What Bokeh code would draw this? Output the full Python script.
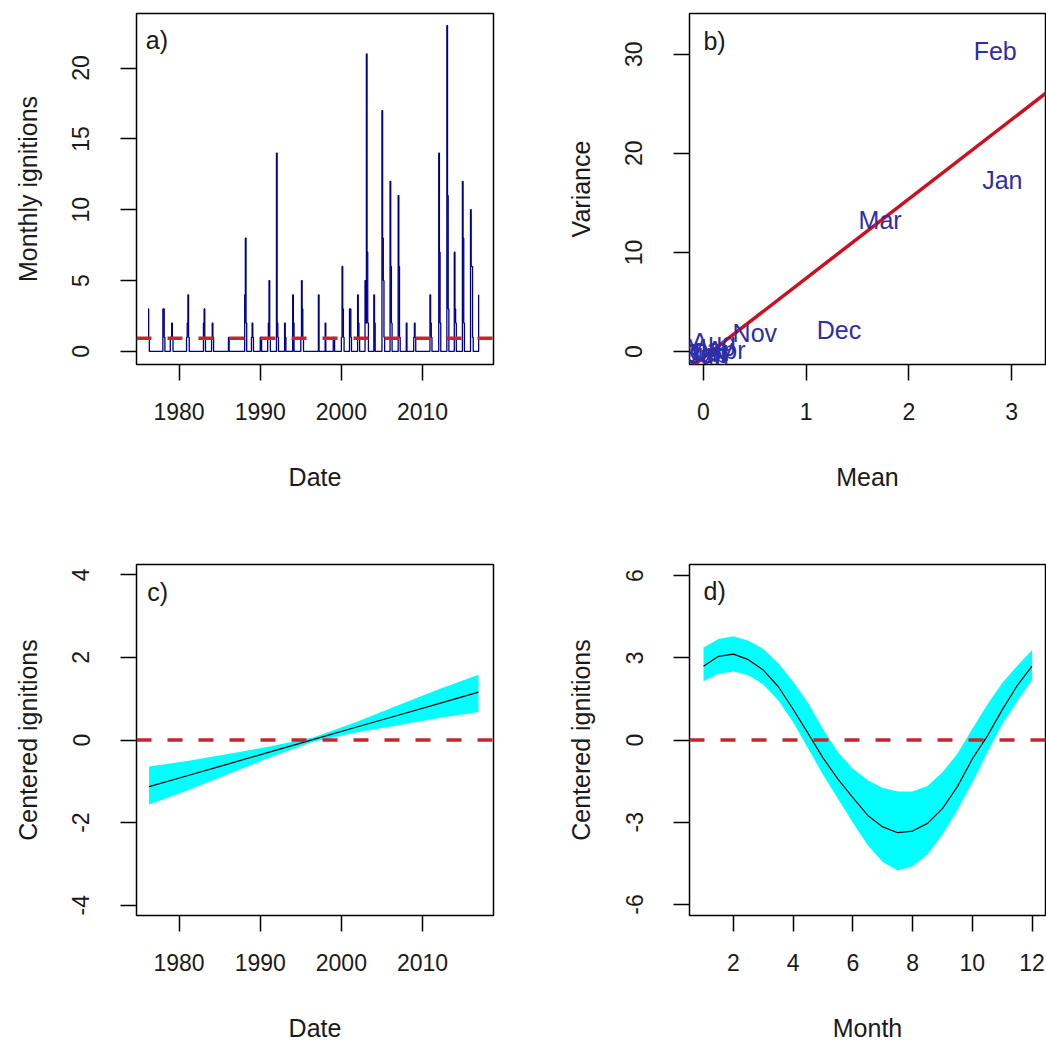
from bokeh.plotting import figure
from bokeh.layouts import gridplot
from bokeh.models import FixedTicker, Range1d, Span
from bokeh.core.properties import value
from bokeh.embed import file_html
from bokeh.resources import INLINE

FONT = "Liberation Sans"

# ---------------- data ----------------
# a) monthly ignitions (months not listed are 0)
series_start = (1976, 3)
series_end = (2016, 12)
event_year = [1976, 1976, 1978, 1978, 1978, 1978, 1979, 1979, 1979, 1980, 1981, 1981, 1981,
              1983, 1983, 1983, 1984, 1984, 1984, 1986, 1988, 1988, 1988, 1988, 1989, 1989,
              1990, 1990, 1990, 1991, 1991, 1991, 1992, 1992, 1992, 1993, 1993, 1994, 1994,
              1995, 1995, 1995, 1995, 1997, 1998, 1999, 1999, 2000, 2000, 2000, 2000,
              2001, 2001, 2001, 2002, 2002, 2002, 2002, 2003, 2003, 2003, 2003, 2004, 2004,
              2005, 2005, 2005, 2005, 2006, 2006, 2006, 2007, 2007, 2007, 2008, 2008,
              2009, 2009, 2010, 2011, 2011, 2012, 2012, 2012, 2013, 2013, 2013, 2013,
              2014, 2014, 2014, 2015, 2015, 2015, 2016, 2016, 2016, 2016]
event_month = [3, 4, 1, 2, 3, 12, 1, 2, 3, 12, 1, 2, 3,
               1, 2, 3, 1, 2, 3, 2, 2, 3, 4, 12, 1, 2,
               1, 2, 12, 1, 2, 3, 1, 2, 3, 1, 2, 1, 2,
               1, 2, 3, 4, 3, 1, 1, 2, 1, 2, 3, 4,
               1, 2, 3, 1, 2, 3, 12, 1, 2, 3, 4, 1, 2,
               1, 2, 3, 4, 1, 2, 3, 1, 2, 3, 1, 12,
               1, 2, 12, 1, 2, 1, 2, 3, 1, 2, 3, 12,
               1, 2, 12, 1, 2, 12, 1, 2, 3, 12]
event_count = [3, 1, 3, 3, 1, 1, 1, 2, 1, 1, 2, 4, 1,
               2, 3, 1, 1, 2, 1, 1, 4, 8, 2, 1, 2, 1,
               1, 1, 1, 2, 5, 1, 14, 2, 1, 2, 1, 4, 2,
               1, 5, 3, 1, 4, 2, 1, 1, 1, 6, 3, 1,
               3, 3, 1, 4, 2, 1, 5, 2, 21, 7, 2, 4, 2,
               17, 8, 5, 1, 12, 6, 2, 11, 6, 1, 2, 1,
               2, 1, 4, 2, 1, 14, 7, 2, 23, 11, 3, 7,
               3, 2, 12, 8, 2, 10, 6, 6, 1, 4]
mean_ignitions = 0.93

# b) monthly mean vs variance
month_names = ["Jan", "Feb", "Mar", "Apr", "May", "Jun", "Jul", "Aug", "Sep", "Oct", "Nov", "Dec"]
month_mean = [2.91, 2.84, 1.72, 0.22, 0.06, 0.02, 0.0, 0.10, 0.03, 0.05, 0.50, 1.32]
month_var = [17.3, 30.3, 13.3, 0.2, 0.4, -0.1, -0.3, 1.0, -0.2, 0.0, 1.9, 2.2]
fit_x = [-0.2, 3.5]
fit_y = [-2.2, 27.4]

# c) trend (centered)
trend_x = [1976.3, 1981, 1986, 1991, 1996.6, 2002, 2007, 2012, 2016.9]
trend_fit = [-1.13, -0.865, -0.584, -0.30, 0.015, 0.32, 0.60, 0.88, 1.16]
trend_lo = [-1.56, -1.22, -0.83, -0.435, -0.035, 0.19, 0.36, 0.53, 0.68]
trend_hi = [-0.64, -0.51, -0.34, -0.165, 0.065, 0.45, 0.84, 1.23, 1.58]

# d) seasonal (centered)
season_x = [1.0, 1.5, 2.0, 2.5, 3.0, 3.5, 4.0, 4.5, 5.0, 5.5, 6.0, 6.5, 7.0, 7.5,
            8.0, 8.5, 9.0, 9.5, 10.0, 10.5, 11.0, 11.5, 12.0]
season_fit = [2.69, 3.05, 3.13, 2.93, 2.55, 1.95, 1.12, 0.24, -0.65, -1.43, -2.1, -2.75,
              -3.17, -3.38, -3.32, -3.04, -2.5, -1.7, -0.69, 0.14, 1.1, 1.98, 2.69]
season_hi = [3.37, 3.68, 3.78, 3.62, 3.32, 2.8, 2.12, 1.35, 0.39, -0.45, -1.05, -1.47,
             -1.75, -1.88, -1.88, -1.68, -1.18, -0.5, 0.41, 1.29, 2.08, 2.7, 3.28]
season_lo = [2.14, 2.42, 2.5, 2.36, 2.02, 1.45, 0.65, -0.3, -1.27, -2.14, -3.02, -3.84,
             -4.45, -4.76, -4.6, -4.18, -3.45, -2.55, -1.55, -0.46, 0.57, 1.4, 2.2]

# ---------------- build series a ----------------
counts = {(y, m): c for y, m, c in zip(event_year, event_month, event_count)}
sx, sy = [], []
yy, mm = series_start
while (yy, mm) <= series_end:
    sx.append(yy + (mm - 1) / 12.0)
    sy.append(counts.get((yy, mm), 0))
    mm += 1
    if mm > 12:
        mm = 1
        yy += 1

RED = "#C4262E"
TXT = "#1a1a1a"


def make_fig(w, h, bl, br, bt, bb, xr, yr):
    p = figure(width=w, height=h, min_border_left=bl, min_border_right=br,
               min_border_top=bt, min_border_bottom=bb,
               x_range=Range1d(*xr), y_range=Range1d(*yr),
               output_backend="svg", toolbar_location=None, tools="")
    p.outline_line_color = "black"
    p.outline_line_width = 1.5
    p.outline_line_alpha = 1
    p.xgrid.visible = False
    p.ygrid.visible = False
    p.background_fill_color = "white"
    p.border_fill_color = "white"
    return p


def style(p, xticks, yticks, xlabel, ylabel):
    for ax in (p.xaxis[0], p.yaxis[0]):
        ax.axis_line_color = None
        ax.major_tick_out = 16
        ax.major_tick_in = 0
        ax.minor_tick_line_color = None
        ax.major_tick_line_color = "black"
        ax.major_tick_line_width = 1.5
        ax.major_label_text_font = FONT
        ax.major_label_text_font_size = "23px"
        ax.major_label_text_color = TXT
        ax.axis_label_text_font = FONT
        ax.axis_label_text_font_size = "25px"
        ax.axis_label_text_font_style = "normal"
        ax.axis_label_text_color = TXT
    p.xaxis.ticker = FixedTicker(ticks=xticks)
    p.yaxis.ticker = FixedTicker(ticks=yticks)
    p.xaxis.major_label_overrides = {t: str(t) for t in xticks}
    p.yaxis.major_label_overrides = {t: str(t) for t in yticks}
    p.xaxis.axis_label = xlabel
    p.yaxis.axis_label = ylabel
    p.xaxis.major_label_standoff = 22
    p.xaxis.axis_label_standoff = 40
    p.yaxis.major_label_orientation = "vertical"
    p.yaxis.major_label_standoff = 31
    p.yaxis.axis_label_standoff = 28


def panel_label(p, x, y, t):
    p.text(x=[x], y=[y], text=[t], text_font=value(FONT), text_font_size="25px",
           text_color=TXT, text_align="left", text_baseline="middle")


XR = (1974.75, 2018.75)
W1, W2 = 560, 486
H1, H2 = 493, 551

# a)
pa = make_fig(W1, H1, 136, 67, 13, 126, XR, (-0.92, 23.85))
pa.step(x=sx, y=sy, mode="after", line_color="#00008B", line_width=1.3)
pa.add_layout(Span(location=mean_ignitions, dimension="width", line_color=RED,
                   line_width=3.5, line_dash="15 16"))
style(pa, [1980, 1990, 2000, 2010], [0, 5, 10, 15, 20], "Date", "Monthly ignitions")
panel_label(pa, 1975.9, 22.0, "a)")

# b)
pb = make_fig(W2, H1, 129, 1, 13, 126, (-0.136, 3.33), (-1.3, 34.1))
pb.line(x=fit_x, y=fit_y, line_color="#CC1020", line_width=3.5)
pb.text(x=month_mean, y=month_var, text=month_names, text_font=value(FONT),
        text_font_size="25px", text_color="#2E2EA6", text_align="center",
        text_baseline="middle")
style(pb, [0, 1, 2, 3], [0, 10, 20, 30], "Mean", "Variance")
panel_label(pb, 0.0, 31.3, "b)")

# c)
pc = make_fig(W1, H2, 136, 67, 71, 126, XR, (-4.25, 4.25))
pc.varea(x=trend_x, y1=trend_lo, y2=trend_hi, fill_color="#00FFFF")
pc.line(x=trend_x, y=trend_fit, line_color="black", line_width=1.2)
pc.add_layout(Span(location=0, dimension="width", line_color=RED,
                   line_width=3.5, line_dash="15 16"))
style(pc, [1980, 1990, 2000, 2010], [-4, -2, 0, 2, 4], "Date", "Centered ignitions")
panel_label(pc, 1976.06, 3.59, "c)")

# d)
pd_ = make_fig(W2, H2, 129, 1, 71, 126, (0.53, 12.45), (-6.4, 6.4))
pd_.varea(x=season_x, y1=season_lo, y2=season_hi, fill_color="#00FFFF")
pd_.line(x=season_x, y=season_fit, line_color="black", line_width=1.2)
pd_.add_layout(Span(location=0, dimension="width", line_color=RED,
                    line_width=3.5, line_dash="15 16"))
style(pd_, [2, 4, 6, 8, 10, 12], [-6, -3, 0, 3, 6], "Month", "Centered ignitions")
panel_label(pd_, 1.0, 5.42, "d)")

grid = gridplot([[pa, pb], [pc, pd_]], toolbar_location=None)

open("out.html", "w").write(file_html(grid, INLINE))
